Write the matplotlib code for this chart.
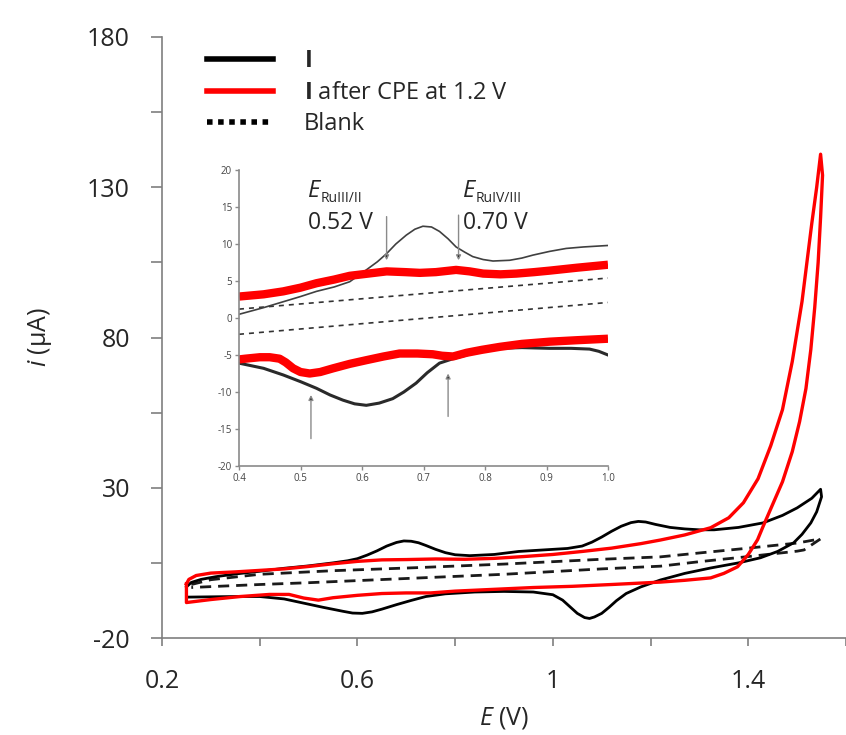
import matplotlib
matplotlib.use("Agg")
import matplotlib.pyplot as plt
from matplotlib.lines import Line2D

plt.rcParams['font.family'] = ['Open Sans', 'DejaVu Sans']
plt.rcParams['mathtext.fontset'] = 'custom'
plt.rcParams['mathtext.rm'] = 'Open Sans'
plt.rcParams['mathtext.it'] = 'Open Sans:italic'
plt.rcParams['mathtext.bf'] = 'Open Sans:bold'
plt.rcParams['axes.unicode_minus'] = False

# === main CV data (E in V, i in uA) ===
# complex I, full sweep: forward then reverse
e_black = [0.25, 0.26, 0.28, 0.31, 0.35, 0.40, 0.45, 0.50, 0.55, 0.58, 0.60, 0.62, 0.64, 0.66,
           0.68, 0.695, 0.71, 0.725, 0.74, 0.76, 0.78, 0.80, 0.83, 0.88, 0.93, 0.98, 1.03, 1.06,
           1.08, 1.10, 1.12, 1.14, 1.16, 1.175, 1.19, 1.21, 1.24, 1.27, 1.30, 1.33, 1.38, 1.43,
           1.47, 1.50, 1.53, 1.548,
           1.550, 1.540, 1.528, 1.51, 1.493, 1.46, 1.425, 1.38, 1.323, 1.27, 1.22, 1.18, 1.15,
           1.13, 1.115, 1.10, 1.085, 1.075, 1.065, 1.05, 1.035, 1.02, 1.00, 0.96, 0.90, 0.84,
           0.78, 0.74, 0.71, 0.68, 0.65, 0.63, 0.61, 0.59, 0.57, 0.53, 0.49, 0.45, 0.40, 0.35,
           0.30, 0.25, 0.25]
i_black = [-3.0, -1.5, -0.5, 0.4, 1.3, 2.2, 3.2, 4.0, 5.0, 5.7, 6.4, 7.6, 9.0, 10.6,
           11.8, 12.3, 12.2, 11.7, 10.8, 9.5, 8.4, 7.7, 7.4, 7.8, 8.8, 9.3, 9.8, 10.6,
           11.9, 13.6, 15.5, 17.2, 18.4, 18.8, 18.6, 17.8, 16.8, 16.3, 16.0, 16.0, 16.8, 18.3,
           20.8, 23.3, 26.5, 29.5,
           27.0, 22.0, 18.3, 14.5, 11.7, 8.8, 6.7, 5.0, 3.3, 1.5, -0.7, -3.0, -5.2,
           -7.6, -9.8, -11.8, -13.0, -13.5, -13.2, -11.8, -9.6, -7.4, -5.6, -4.7, -4.5, -4.7,
           -5.3, -6.2, -7.5, -8.9, -10.4, -11.3, -11.8, -11.7, -11.1, -9.8, -8.4, -7.0, -6.2, -6.2,
           -6.3, -6.4, -3.0]

# complex I after CPE at 1.2 V
e_red = [0.25, 0.255, 0.27, 0.30, 0.35, 0.40, 0.45, 0.50, 0.55, 0.60, 0.65, 0.70, 0.76, 0.82,
         0.88, 0.94, 1.00, 1.06, 1.12, 1.18, 1.22, 1.27, 1.323, 1.36, 1.39, 1.42, 1.446, 1.47,
         1.49, 1.51, 1.53, 1.54, 1.548,
         1.552, 1.548, 1.543, 1.536, 1.528, 1.518, 1.505, 1.49, 1.47, 1.446, 1.43, 1.419,
         1.40, 1.378, 1.35, 1.323, 1.27, 1.22, 1.12, 1.04, 0.96, 0.88, 0.80, 0.75, 0.70, 0.65,
         0.60, 0.55, 0.52, 0.49, 0.46, 0.42, 0.36, 0.30, 0.25, 0.25]
i_red = [-2.0, -0.5, 0.8, 1.6, 2.0, 2.5, 3.0, 3.8, 4.7, 5.5, 6.0, 6.1, 6.3, 6.2,
         6.5, 7.1, 7.8, 8.8, 9.9, 11.4, 12.6, 14.3, 16.7, 20.0, 25.0, 33.0, 44.0, 56.0,
         72.0, 92.0, 118.0, 130.0, 141.0,
         134.0, 120.0, 105.0, 90.0, 76.0, 63.0, 52.0, 42.0, 32.0, 23.0, 17.0, 12.7,
         7.8, 3.7, 1.5, 0.0, -0.8, -1.4, -2.2, -2.8, -3.2, -3.8, -4.4, -5.0, -5.0, -5.2,
         -5.8, -6.6, -7.4, -6.7, -5.5, -5.5, -6.2, -7.2, -8.2, -2.0]

# blank (electrolyte only)
e_blank = [0.26, 0.30, 0.40, 0.55, 0.72, 0.90, 1.00, 1.10, 1.22, 1.30, 1.40, 1.50, 1.548,
           1.514, 1.50, 1.40, 1.30, 1.22, 1.10, 1.00, 0.90, 0.80, 0.70, 0.60, 0.50, 0.40, 0.30, 0.26]
i_blank = [-2.2, -0.6, 1.2, 2.4, 3.4, 4.6, 5.4, 6.2, 7.0, 8.3, 9.9, 11.6, 13.0,
           9.3, 8.9, 7.1, 5.4, 3.9, 3.0, 2.1, 1.2, 0.5, -0.2, -0.9, -1.6, -2.2, -2.9, -3.2]

# === inset data (0.4 - 1.0 V) ===
e_in_black_fwd = [0.40, 0.44, 0.472, 0.50, 0.526, 0.555, 0.58, 0.607, 0.625, 0.64, 0.655,
                  0.672, 0.686, 0.699, 0.713, 0.726, 0.74, 0.753, 0.767, 0.78, 0.797, 0.813,
                  0.84, 0.86, 0.878, 0.905, 0.932, 0.96, 0.98, 1.00]
i_in_black_fwd = [0.5, 1.4, 2.2, 2.9, 3.6, 4.2, 4.9, 6.5, 7.6, 8.7, 10.0,
                  11.2, 12.0, 12.4, 12.3, 11.7, 10.7, 9.6, 8.9, 8.3, 7.9, 7.7,
                  7.8, 8.1, 8.5, 9.0, 9.4, 9.6, 9.7, 9.8]
e_in_black_rev = [1.00, 0.985, 0.97, 0.94, 0.905, 0.86, 0.824, 0.795, 0.77, 0.748, 0.726,
                  0.706, 0.688, 0.668, 0.65, 0.628, 0.607, 0.588, 0.569, 0.548, 0.526, 0.50,
                  0.472, 0.44, 0.40]
i_in_black_rev = [-5.0, -4.5, -4.2, -4.1, -4.1, -4.0, -4.1, -4.4, -5.0, -5.5, -6.1,
                  -7.4, -8.8, -10.0, -10.9, -11.5, -11.8, -11.6, -11.1, -10.4, -9.5, -8.6,
                  -7.7, -6.8, -6.1]
e_in_red_fwd = [0.40, 0.44, 0.472, 0.50, 0.526, 0.555, 0.58, 0.61, 0.64, 0.67, 0.694, 0.72,
                0.753, 0.775, 0.797, 0.825, 0.851, 0.88, 0.905, 0.95, 1.00]
i_in_red_fwd = [2.9, 3.2, 3.6, 4.1, 4.7, 5.2, 5.7, 6.0, 6.3, 6.2, 6.1, 6.2,
                6.5, 6.3, 6.0, 5.9, 6.0, 6.2, 6.4, 6.8, 7.2]
e_in_red_rev = [1.00, 0.95, 0.905, 0.86, 0.824, 0.795, 0.77, 0.748, 0.73, 0.715, 0.69, 0.661,
                0.635, 0.607, 0.58, 0.553, 0.532, 0.515, 0.50, 0.488, 0.476, 0.466, 0.45,
                0.434, 0.41, 0.40]
i_in_red_rev = [-2.8, -3.0, -3.2, -3.5, -3.9, -4.3, -4.7, -5.2, -5.1, -4.9, -4.8, -4.8,
                -5.2, -5.7, -6.2, -6.8, -7.3, -7.5, -7.3, -6.8, -6.0, -5.5, -5.3,
                -5.3, -5.5, -5.6]
e_in_blank = [0.40, 1.00]
i_in_blank_up = [1.2, 5.4]
i_in_blank_low = [-2.2, 2.1]

# arrows: (E, i_start, i_end)
arrows = [(0.640, 13.7, 7.8), (0.757, 13.9, 7.8), (0.517, -16.3, -10.4), (0.740, -13.3, -7.5)]

fig = plt.figure(figsize=(8.46, 7.35), dpi=100)
ax = fig.add_axes([162 / 846, 1 - 638 / 735, 684 / 846, 601 / 735])

ax.plot(e_blank, i_blank, color='#1a1a1a', lw=2.0, dashes=(4, 2.5))
ax.plot(e_black, i_black, color='black', lw=2.0, solid_joinstyle='round')
ax.plot(e_red, i_red, color='#ff0000', lw=2.4, solid_joinstyle='round')

ax.set_xlim(0.2, 1.6)
ax.set_ylim(-20, 180)
ax.set_xticks([0.2, 0.6, 1.0, 1.4])
ax.set_xticklabels(['0.2', '0.6', '1', '1.4'])
ax.set_xticks([0.4, 0.8, 1.2, 1.6], minor=True)
ax.set_yticks([-20, 30, 80, 130, 180])
ax.set_yticks([5, 55, 105, 155], minor=True)
for s in ['top', 'right']:
    ax.spines[s].set_visible(False)
for s in ['left', 'bottom']:
    ax.spines[s].set_color('#7f7f7f')
    ax.spines[s].set_linewidth(1.2)
ax.tick_params(axis='both', which='both', color='#7f7f7f', width=1.2, labelcolor='#262626',
               labelsize=18)
ax.tick_params(axis='y', which='both', length=8, pad=15)
ax.tick_params(axis='x', which='both', length=6, pad=16)
ax.set_xlabel(r'$\mathit{E}$ (V)', fontsize=18, color='#262626', labelpad=8)
ax.set_ylabel(r'$\mathit{i}$ ($\mathrm{\mu}$A)', fontsize=18, color='#262626')
ax.yaxis.set_label_coords(-0.158, 0.5)

handles = [Line2D([], [], color='black', lw=4),
           Line2D([], [], color='#ff0000', lw=4),
           Line2D([], [], color='black', lw=4, dashes=(1, 1))]
labels = [r'$\mathbf{I}$', r'$\mathbf{I}$ after CPE at 1.2 V', 'Blank']
leg = ax.legend(handles, labels, loc='upper left', bbox_to_anchor=(0.035, 1.015), frameon=False,
                fontsize=17, handlelength=2.8, handletextpad=1.3, labelspacing=0.32)
for t in leg.get_texts():
    t.set_color('#262626')

# === inset ===
axi = fig.add_axes([239 / 846, 1 - 466 / 735, 369 / 846, 296 / 735])
axi.plot(e_in_blank, i_in_blank_up, color='#333333', lw=1.2, dashes=(3, 3))
axi.plot(e_in_blank, i_in_blank_low, color='#333333', lw=1.2, dashes=(3, 3))
axi.plot(e_in_black_fwd, i_in_black_fwd, color='#404040', lw=1.2)
axi.plot(e_in_black_rev, i_in_black_rev, color='#2a2a2a', lw=2.2)
axi.plot(e_in_red_fwd, i_in_red_fwd, color='#ff0000', lw=6, solid_capstyle='butt')
axi.plot(e_in_red_rev, i_in_red_rev, color='#ff0000', lw=6, solid_capstyle='butt')
axi.set_xlim(0.4, 1.0)
axi.set_ylim(-20, 20)
axi.set_xticks([0.4, 0.5, 0.6, 0.7, 0.8, 0.9, 1.0])
axi.set_xticklabels(['0.4', '0.5', '0.6', '0.7', '0.8', '0.9', '1.0'])
axi.set_yticks(range(-20, 21, 5))
for s in ['top', 'right']:
    axi.spines[s].set_visible(False)
for s in ['left', 'bottom']:
    axi.spines[s].set_color('#8a8a8a')
    axi.spines[s].set_linewidth(1.2)
axi.tick_params(axis='both', color='#8a8a8a', length=3, width=1, labelsize=7,
                labelcolor='#444444', pad=2)

for x, y0, y1 in arrows:
    axi.annotate('', xy=(x, y1), xytext=(x, y0),
                 arrowprops=dict(arrowstyle='-|>', color='#8a8a8a', fc='black', lw=1,
                                 mutation_scale=7, shrinkA=0, shrinkB=0))

axi.text(0.513, 17.1, 'E', fontsize=17, style='italic', color='#262626', va='center', ha='left')
axi.text(0.532, 16.1, 'RuIII/II', fontsize=10, color='#262626', va='center', ha='left')
axi.text(0.513, 12.9, '0.52 V', fontsize=16.5, color='#262626', va='center', ha='left')
axi.text(0.765, 17.1, 'E', fontsize=17, style='italic', color='#262626', va='center', ha='left')
axi.text(0.784, 16.1, 'RuIV/III', fontsize=10, color='#262626', va='center', ha='left')
axi.text(0.765, 12.9, '0.70 V', fontsize=16.5, color='#262626', va='center', ha='left')

fig.savefig('out.png', dpi=100)
